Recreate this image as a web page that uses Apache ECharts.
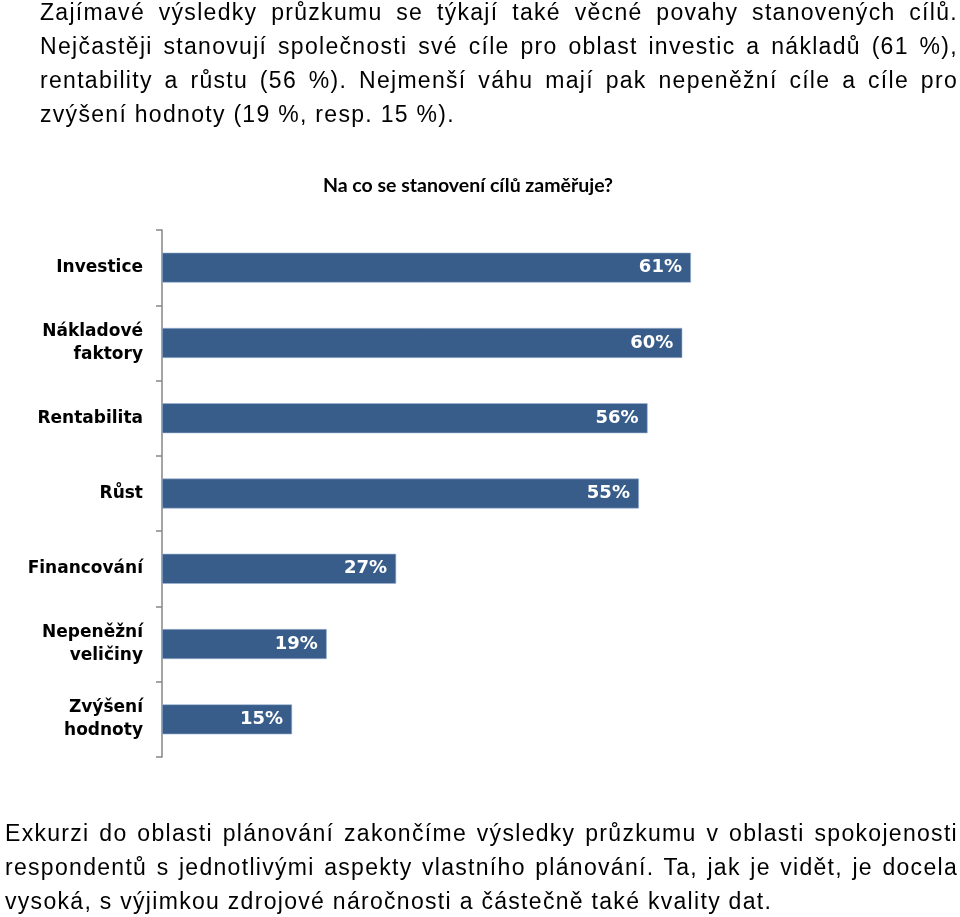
<!DOCTYPE html>
<html>
<head>
<meta charset="utf-8">
<script src="https://cdn.jsdelivr.net/npm/echarts@6/dist/echarts.min.js"></script>
<style>
html,body{margin:0;padding:0;background:#fff;}
#wrap{position:relative;width:960px;height:917px;overflow:hidden;}
#chart{position:absolute;left:0;top:0;width:960px;height:917px;}
.para{position:absolute;font-family:"Liberation Sans",Arial,sans-serif;font-size:23px;letter-spacing:1.3px;line-height:34px;color:#000;pointer-events:none;}
.para div{white-space:nowrap;}
.para div.j{text-align:justify;text-align-last:justify;white-space:normal;}
</style>
</head>
<body>
<div id="wrap">
<div id="chart"></div>
<div class="para" id="top" style="left:40px;top:-5px;width:918px;"></div>
<div class="para" id="bottom" style="left:5px;top:816px;width:953px;"></div>
</div>
<script>
var topLines = [
  "Zajímavé výsledky průzkumu se týkají také věcné povahy stanovených cílů.",
  "Nejčastěji stanovují společnosti své cíle pro oblast investic a nákladů (61 %),",
  "rentability a růstu (56 %). Nejmenší váhu mají pak nepeněžní cíle a cíle pro",
  "zvýšení hodnoty (19 %, resp. 15 %)."
];
var bottomLines = [
  "Exkurzi do oblasti plánování zakončíme výsledky průzkumu v oblasti spokojenosti",
  "respondentů s jednotlivými aspekty vlastního plánování. Ta, jak je vidět, je docela",
  "vysoká, s výjimkou zdrojové náročnosti a částečně také kvality dat."
];
var chartTitle = "Na co se stanovení cílů zaměřuje?";
var categories = ["Investice", "Nákladové\nfaktory", "Rentabilita", "Růst", "Financování", "Nepeněžní\nveličiny", "Zvýšení\nhodnoty"];
var values = [61, 60, 56, 55, 27, 19, 15];

function fill(id, lines) {
  var el = document.getElementById(id);
  lines.forEach(function (t, i) {
    var d = document.createElement('div');
    if (i < lines.length - 1) d.className = 'j';
    d.textContent = t;
    el.appendChild(d);
  });
}
fill('top', topLines);
fill('bottom', bottomLines);

var chart = echarts.init(document.getElementById('chart'), null, {renderer: 'canvas'});
chart.setOption({
  animation: false,
  backgroundColor: '#ffffff',
  title: {
    text: chartTitle,
    left: 463,
    textAlign: 'center',
    top: 171,
    textStyle: {fontFamily: 'Lato', fontWeight: 'bold', fontSize: 19.5, color: '#000'}
  },
  grid: {left: 162, top: 230, width: 607, height: 527, containLabel: false},
  xAxis: {
    type: 'value', min: 0, max: 70, show: false
  },
  yAxis: {
    type: 'category',
    inverse: true,
    data: categories,
    axisLine: {show: true, lineStyle: {color: '#868686', width: 1.5}},
    axisTick: {show: true, length: 6, lineStyle: {color: '#868686', width: 1.5}},
    axisLabel: {
      margin: 19,
      color: '#000',
      fontFamily: 'DejaVu Sans',
      fontWeight: 'bold',
      fontSize: 17,
      lineHeight: 23,
      align: 'right'
    }
  },
  series: [{
    type: 'bar',
    data: values,
    barWidth: 30,
    itemStyle: {color: '#385D8A', borderColor: '#9DB3D3', borderWidth: 0.6},
    label: {
      show: true,
      position: 'insideRight',
      distance: 9,
      formatter: '{c}%',
      color: '#fff',
      fontFamily: 'DejaVu Sans',
      fontWeight: 'bold',
      fontSize: 18
    }
  }]
});
</script>
</body>
</html>
